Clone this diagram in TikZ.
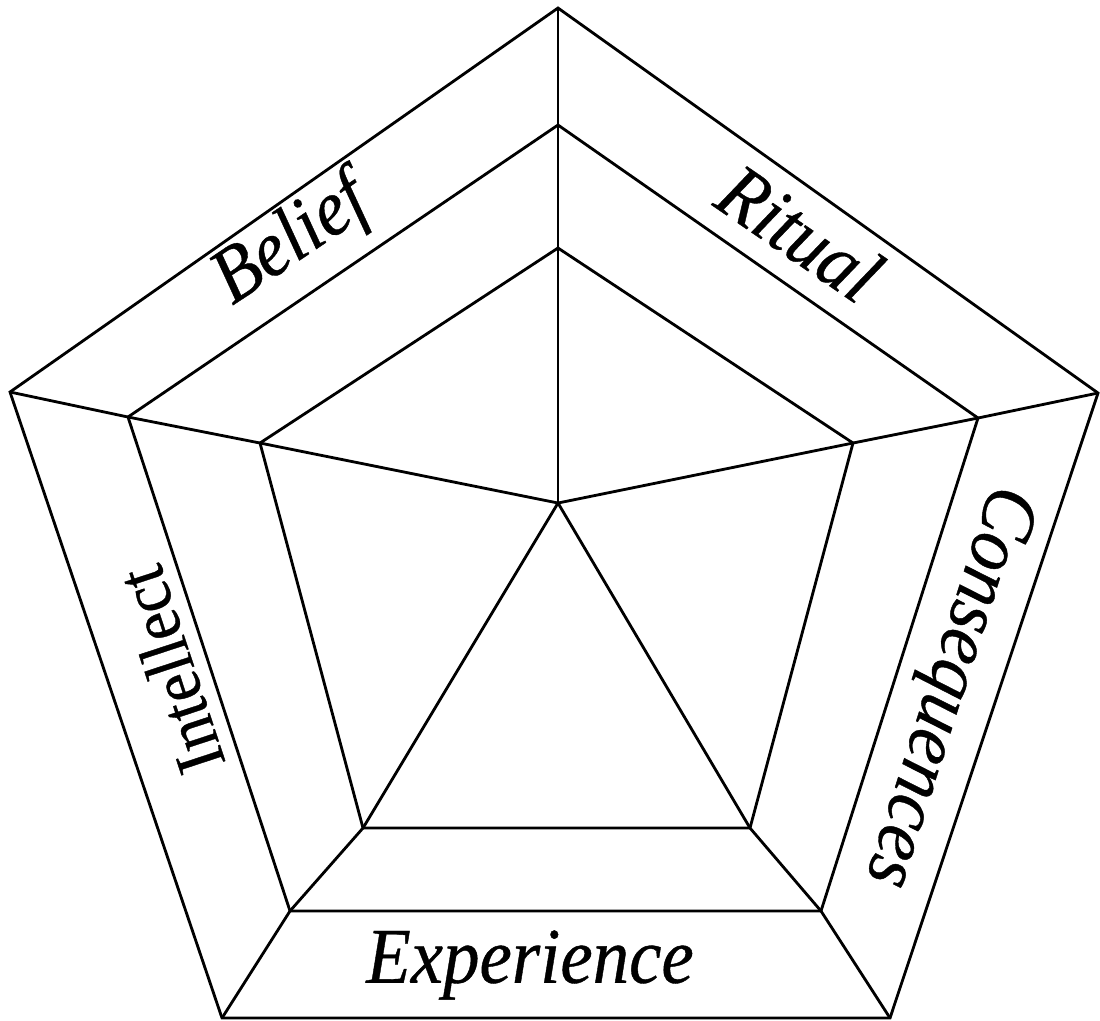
\documentclass[tikz,border=0pt]{standalone}
\usepackage{fontspec}
\newfontfamily\labelfont[FakeStretch=0.92, FakeBold=0.5]{Liberation Serif}
\usetikzlibrary{positioning}
\tikzset{
  frame/.style={line width=0.8pt, line join=miter},
  ringlabel/.style={font=\labelfont\itshape\fontsize{22.5}{27}\selectfont, inner sep=0pt},
  sidelabel/.style={font=\labelfont\fontsize{20}{24}\selectfont, inner sep=0pt},
}

\begin{document}
\begin{tikzpicture}[x=0.01cm, y=-0.01cm]
\useasboundingbox (0,0) rectangle (1100,1020);
% centre
\coordinate (c) at (558,503);
% outer ring
\coordinate (ot) at (558,8);
\coordinate (or) at (1098,393);
\coordinate (obr) at (890,1018);
\coordinate (obl) at (222,1018);
\coordinate (ol) at (10,392);
% middle ring
\coordinate (mt) at (558,125);
\coordinate (mr) at (978,418);
\coordinate (mbr) at (821,911);
\coordinate (mbl) at (290,911);
\coordinate (ml) at (128,417);
% inner ring
\coordinate (it) at (558,248);
\coordinate (ir) at (853,443);
\coordinate (ibr) at (750,828);
\coordinate (ibl) at (363,828);
\coordinate (il) at (260,443);

\foreach \ring in {o,m,i}
  \draw[frame] (\ring t) -- (\ring r) -- (\ring br) -- (\ring bl) -- (\ring l) -- cycle;
% spokes
\foreach \v in {t,r,br,bl,l}
  \draw[frame] (c) -- (i\v) -- (m\v) -- (o\v);

% labels
\node[ringlabel, rotate=34] (belief) at (292,242) {Belief};
\node[ringlabel, rotate=-34.5] (ritual) at (800,233) {Ritual};
\node[ringlabel, rotate=-107.7] (conseq) at (946,686) {Consequences};
\node[ringlabel] (exper) at (530,965) {Experience};
\node[sidelabel, rotate=108.2] (intel) at (170,670) {Intellect};
\end{tikzpicture}
\end{document}
